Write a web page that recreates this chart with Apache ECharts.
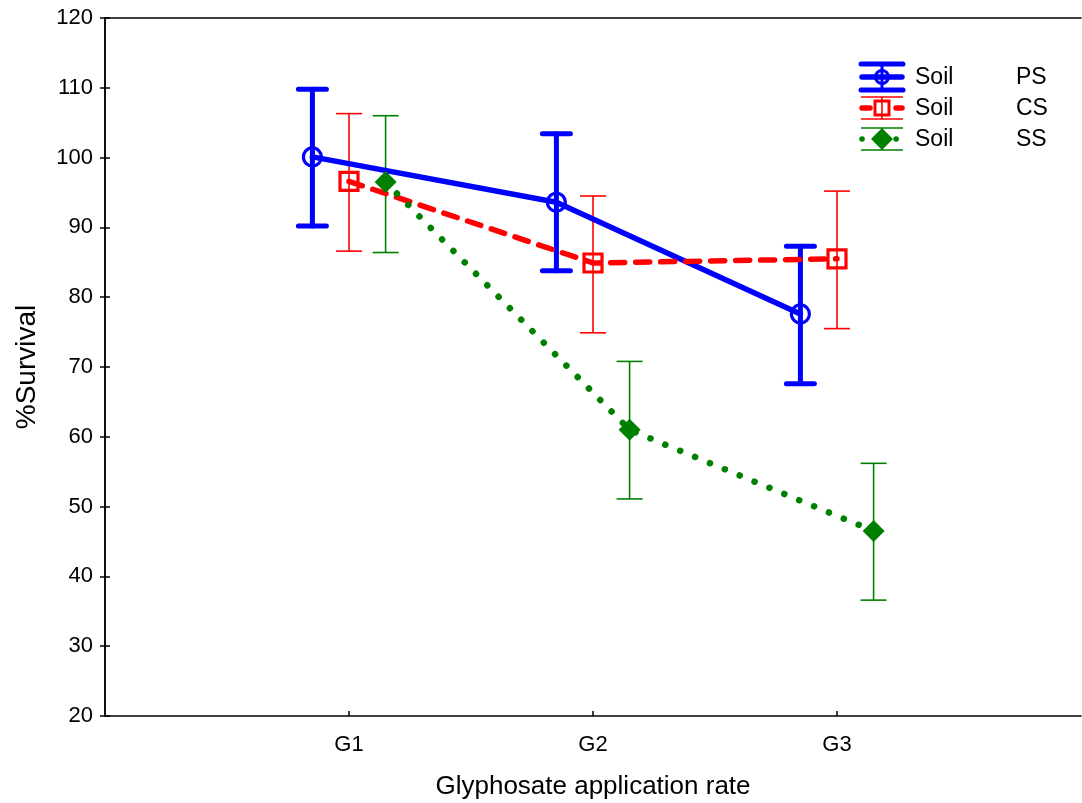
<!DOCTYPE html>
<html>
<head>
<meta charset="utf-8">
<script src="https://cdn.jsdelivr.net/npm/echarts@6/dist/echarts.min.js"></script>
<style>
  html, body { margin: 0; padding: 0; background: #fff; }
  #chart { width: 1082px; height: 803px; }
</style>
</head>
<body>
<div id="chart"></div>
<script>
// Survival (%) by glyphosate rate for three soil types: mean with lower/upper bounds
const categories = ['G1', 'G2', 'G3'];
const seriesNames = ['PS', 'CS', 'SS'];

const psMean = [100.1, 93.6, 77.6];
const psLow  = [90.2, 83.8, 67.6];
const psHigh = [109.8, 103.4, 87.3];

const csMean = [96.6, 84.9, 85.5];
const csLow  = [86.6, 74.9, 75.5];
const csHigh = [106.3, 94.5, 95.2];

const ssMean = [96.5, 61.0, 46.5];
const ssLow  = [86.4, 51.1, 36.6];
const ssHigh = [106.0, 70.8, 56.2];

const yTicks = [20, 30, 40, 50, 60, 70, 80, 90, 100, 110, 120];

// horizontal offset of each soil group around its category position
const offsets = [-0.15, 0, 0.15];
const FONT = 'Liberation Sans, Arial, sans-serif';

const groups = [
  { name: seriesNames[0], mean: psMean, low: psLow, high: psHigh, color: '#0000ff',
    barWidth: 5, capHalf: 14, lineType: 'solid', lineWidth: 5.5,
    symbol: 'circle', symbolSize: 18, fill: 'rgba(0,0,0,0)', border: 3.2 },
  { name: seriesNames[1], mean: csMean, low: csLow, high: csHigh, color: '#ff0000',
    barWidth: 1.6, capHalf: 13, lineType: [14, 11], lineWidth: 5.5,
    symbol: 'rect', symbolSize: 18, fill: 'rgba(0,0,0,0)', border: 3.2 },
  { name: seriesNames[2], mean: ssMean, low: ssLow, high: ssHigh, color: '#008000',
    barWidth: 1.6, capHalf: 13, lineType: [0.1, 16], lineWidth: 6.5,
    symbol: 'diamond', symbolSize: 22, fill: '#008000', border: 0 }
];

const series = [];
groups.forEach((g, gi) => {
  const pts = g.mean.map((v, i) => [i + 1 + offsets[gi], v]);
  const bars = g.mean.map((v, i) => [i + 1 + offsets[gi], g.low[i], g.high[i]]);
  series.push({
    type: 'custom',
    name: g.name + '-err',
    z: 2,
    data: bars,
    renderItem: (params, api) => {
      const x = api.value(0);
      const lo = api.coord([x, api.value(1)]);
      const hi = api.coord([x, api.value(2)]);
      const st = { stroke: g.color, lineWidth: g.barWidth, lineCap: g.barWidth > 3 ? 'round' : 'butt' };
      return {
        type: 'group',
        children: [
          { type: 'line', shape: { x1: lo[0], y1: lo[1], x2: hi[0], y2: hi[1] }, style: st },
          { type: 'line', shape: { x1: lo[0] - g.capHalf, y1: lo[1], x2: lo[0] + g.capHalf, y2: lo[1] }, style: st },
          { type: 'line', shape: { x1: hi[0] - g.capHalf, y1: hi[1], x2: hi[0] + g.capHalf, y2: hi[1] }, style: st }
        ]
      };
    }
  });
  series.push({
    type: 'line',
    name: g.name,
    z: 3 + gi,
    data: pts,
    symbol: g.symbol,
    symbolSize: g.symbolSize,
    showAllSymbol: true,
    lineStyle: { color: g.color, width: g.lineWidth, type: g.lineType, cap: 'round' },
    itemStyle: { color: g.fill, borderColor: g.color, borderWidth: g.border },
    emphasis: { disabled: true },
    animation: false
  });
});

// legend entries: small error-bar glyph plus label
const legendGraphics = [];
const legendTop = 77, legendStep = 31, iconX = 882;
groups.forEach((g, gi) => {
  const cy = legendTop + gi * legendStep;
  const capY = gi === 0 ? 13 : 11;
  const thick = gi === 0;
  const capStyle = { stroke: g.color, lineWidth: thick ? 5 : 1.6, lineCap: thick ? 'round' : 'butt' };
  const children = [
    { type: 'line', shape: { x1: iconX - 21, y1: cy - capY, x2: iconX + 21, y2: cy - capY }, style: capStyle },
    { type: 'line', shape: { x1: iconX - 21, y1: cy + capY, x2: iconX + 21, y2: cy + capY }, style: capStyle },
    { type: 'line', shape: { x1: iconX, y1: cy - capY, x2: iconX, y2: cy + capY }, style: { stroke: g.color, lineWidth: thick ? 3 : 1.6 } },
    { type: 'line', shape: { x1: iconX - 20, y1: cy, x2: iconX + 20, y2: cy },
      style: { stroke: g.color, lineWidth: 5.5, lineCap: 'round',
               lineDash: gi === 0 ? null : (gi === 1 ? [8, 26] : [0.1, 34]) } }
  ];
  if (gi === 0) {
    children.push({ type: 'circle', shape: { cx: iconX, cy: cy, r: 6.5 }, style: { fill: 'none', stroke: g.color, lineWidth: 3 } });
  } else if (gi === 1) {
    children.push({ type: 'rect', shape: { x: iconX - 7, y: cy - 7, width: 14, height: 14 }, style: { fill: '#fff', stroke: g.color, lineWidth: 3 } });
    children.push({ type: 'line', shape: { x1: iconX, y1: cy - 7, x2: iconX, y2: cy + 7 }, style: { stroke: g.color, lineWidth: 1.6 } });
  } else {
    children.push({ type: 'polygon', shape: { points: [[iconX, cy - 11], [iconX + 11, cy], [iconX, cy + 11], [iconX - 11, cy]] }, style: { fill: g.color } });
  }
  children.push({ type: 'text', style: { x: 915, y: cy + 1, text: 'Soil', fill: '#000', font: '23px ' + FONT, verticalAlign: 'middle' } });
  children.push({ type: 'text', style: { x: 1016, y: cy + 1, text: g.name, fill: '#000', font: '23px ' + FONT, verticalAlign: 'middle' } });
  legendGraphics.push({ type: 'group', z: 20, children });
});

const chart = echarts.init(document.getElementById('chart'), null, { renderer: 'canvas' });
chart.setOption({
  backgroundColor: '#fff',
  animation: false,
  grid: { left: 105, right: 1, top: 18, bottom: 87, containLabel: false, outerBoundsMode: 'none' },
  xAxis: [
    {
      type: 'value', min: 0, max: 4, interval: 1, position: 'bottom',
      name: 'Glyphosate application rate', nameLocation: 'middle', nameGap: 58,
      nameTextStyle: { fontFamily: FONT, fontSize: 26, color: '#000' },
      axisLine: { show: true, lineStyle: { color: '#000', width: 1.5 } },
      axisTick: { show: true, inside: true, length: 5, customValues: [1, 2, 3], lineStyle: { color: '#000', width: 1.5 } },
      axisLabel: { customValues: [1, 2, 3], formatter: v => categories[Math.round(v) - 1] || '',
                   margin: 18, fontFamily: FONT, fontSize: 22, color: '#000' },
      splitLine: { show: false }
    },
    {
      type: 'value', min: 0, max: 4, position: 'top',
      axisLine: { show: true, lineStyle: { color: '#000', width: 1.5 } },
      axisTick: { show: false }, axisLabel: { show: false }, splitLine: { show: false }
    }
  ],
  yAxis: [
    {
      type: 'value', min: yTicks[0], max: yTicks[yTicks.length - 1], interval: 10, position: 'left',
      name: '%Survival', nameLocation: 'middle', nameGap: 64, nameRotate: 90,
      nameTextStyle: { fontFamily: FONT, fontSize: 28, color: '#000' },
      axisLine: { show: true, lineStyle: { color: '#000', width: 1.5 } },
      axisTick: { show: true, inside: true, length: 5, lineStyle: { color: '#000', width: 1.5 } },
      axisLabel: { margin: 12, fontFamily: FONT, fontSize: 22, color: '#000' },
      splitLine: { show: false }
    },
    {
      type: 'value', min: yTicks[0], max: yTicks[yTicks.length - 1], interval: 10, position: 'right',
      axisLine: { show: true, lineStyle: { color: '#000', width: 1.5 } },
      axisTick: { show: true, inside: true, length: 5, lineStyle: { color: '#000', width: 1.5 } },
      axisLabel: { show: false }, splitLine: { show: false }
    }
  ],
  series: series,
  graphic: legendGraphics
});
</script>
</body>
</html>
